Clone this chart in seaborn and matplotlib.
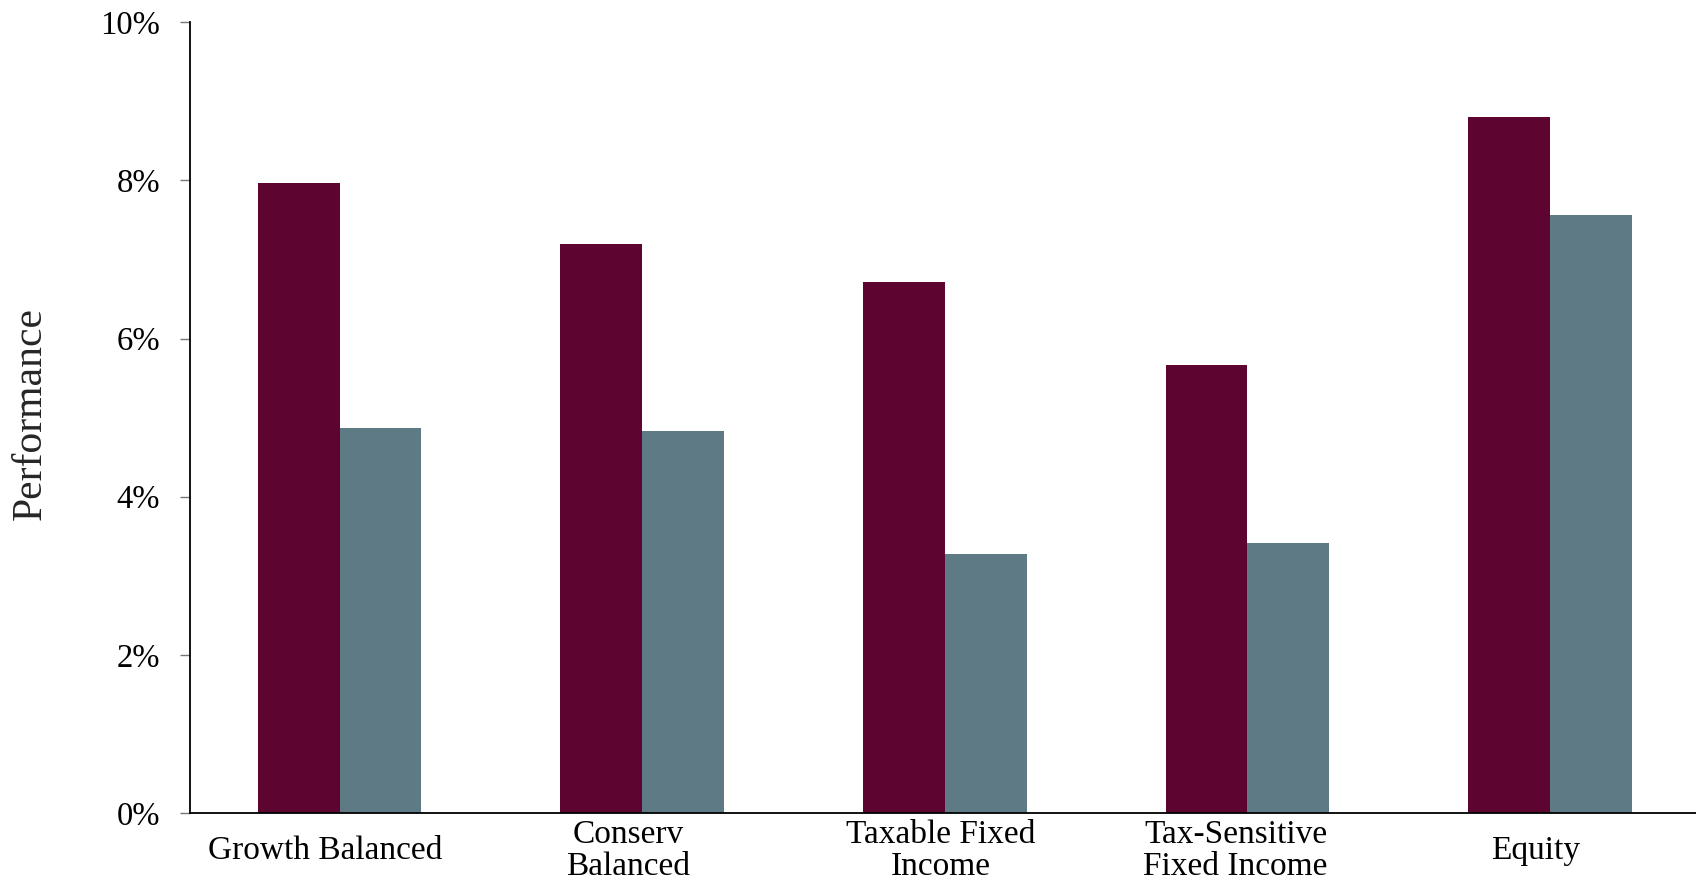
import matplotlib
matplotlib.use("Agg")
import matplotlib.pyplot as plt
import matplotlib.transforms as mtransforms
from matplotlib.ticker import FuncFormatter, MultipleLocator
import seaborn as sns
import pandas as pd

# Performance by strategy, in percent
categories = ["Growth Balanced", "Conserv\nBalanced", "Taxable Fixed\nIncome",
              "Tax-Sensitive\nFixed Income", "Equity"]
strategy = [7.97, 7.19, 6.72, 5.67, 8.80]
benchmark = [4.87, 4.83, 3.27, 3.42, 7.56]
series_names = ["Strategy", "Benchmark"]
colors = ["#5E0430", "#5E7A84"]

df = pd.DataFrame({
    "category": categories * 2,
    "value": strategy + benchmark,
    "series": [series_names[0]] * len(categories) + [series_names[1]] * len(categories),
})

sns.set_style("white")
plt.rcParams["font.family"] = ["Liberation Serif", "DejaVu Serif"]

fig = plt.figure(figsize=(16.96, 8.86), dpi=100)
ax = fig.add_axes([190 / 1696, 1 - 813 / 886, 1 - 190 / 1696, (813 - 22.3) / 886])

sns.barplot(data=df, x="category", y="value", hue="series", order=categories,
            hue_order=series_names, palette=colors, width=0.54, gap=0,
            saturation=1, linewidth=0, legend=False, ax=ax)

ax.set_ylim(0, 10)
ax.set_xlim(-0.494, 4.482)
ax.yaxis.set_major_locator(MultipleLocator(2))
ax.yaxis.set_major_formatter(FuncFormatter(lambda v, _: f"{v:.0f}%"))

for side in ("top", "right"):
    ax.spines[side].set_visible(False)
ax.spines["left"].set_color("black")
ax.spines["left"].set_linewidth(1.3)
ax.spines["bottom"].set_color("black")
ax.spines["bottom"].set_linewidth(1.3)

ax.tick_params(axis="y", which="major", left=True, length=7.2, width=1.0,
               color="#777777", pad=14.4, labelsize=23.5, labelcolor="black")
ax.tick_params(axis="x", length=0, pad=27, labelsize=24, labelcolor="black")

# small horizontal nudges of the category labels (pixels)
nudges = [-14, -14, -4, -12, -14]
for lab, dx in zip(ax.get_xticklabels(), nudges):
    lab.set_va("center")
    lab.set_linespacing(1.05)
    shift = mtransforms.ScaledTranslation(dx / 100, 0, fig.dpi_scale_trans)
    lab.set_transform(lab.get_transform() + shift)

ax.set_xlabel("")
ax.set_ylabel("Performance", fontsize=30, labelpad=40)
ax.yaxis.set_label_coords(-0.093, 0.505)

fig.savefig("out.png", dpi=100, facecolor="white")
